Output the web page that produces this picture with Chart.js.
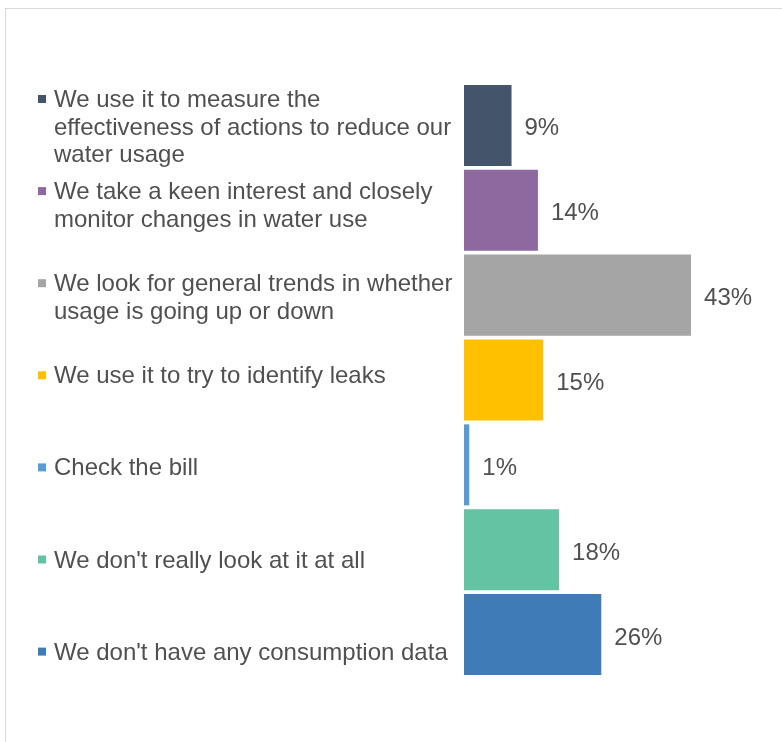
<!DOCTYPE html>
<html>
<head>
<meta charset="utf-8">
<script src="https://cdn.jsdelivr.net/npm/chart.js@4"></script>
<style>
  html, body { margin: 0; padding: 0; background: #fff; overflow: hidden; }
  #frame { position: absolute; left: 5px; top: 8px; width: 900px; height: 900px; border: 1px solid #d9d9d9; }
  #chart { position: absolute; left: 0; top: 0; }
</style>
</head>
<body>
<div id="frame"></div>
<canvas id="chart" width="782" height="742"></canvas>
<script>
// How the water consumption data is used (share of respondents, %)
const categories = [
    ['We use it to measure the', 'effectiveness of actions to reduce our', 'water usage'],
    ['We take a keen interest and closely', 'monitor changes in water use'],
    ['We look for general trends in whether', 'usage is going up or down'],
    ['We use it to try to identify leaks'],
    ['Check the bill'],
    ["We don't really look at it at all"],
    ["We don't have any consumption data"]
];
const shares = [9, 14, 43, 15, 1, 18, 26];
const barColors = ['#44546a', '#8d69a0', '#a5a5a5', '#ffc000', '#5b9bd5', '#64c3a2', '#3f7bb7'];

const textColor = '#505050';
const fontFamily = '"Liberation Sans", Arial, sans-serif';

// left-hand key: coloured square + wrapped text for each answer
const sideKey = {
    id: 'sideKey',
    afterDraw(chart) {
        const ctx = chart.ctx;
        const top = 99, step = 92.1, lineH = 27.6;
        ctx.save();
        ctx.font = '24px ' + fontFamily;
        ctx.textAlign = 'left';
        ctx.textBaseline = 'alphabetic';
        categories.forEach(function (lines, i) {
            const cy = top + i * step;
            ctx.fillStyle = barColors[i];
            ctx.fillRect(38, cy - 4, 8, 8);
            ctx.fillStyle = textColor;
            lines.forEach(function (line, j) {
                ctx.fillText(line, 54, cy + 8 + j * lineH);
            });
        });
        ctx.restore();
    }
};

// percentage printed just past the end of each bar
const valueLabels = {
    id: 'valueLabels',
    afterDatasetsDraw(chart) {
        const ctx = chart.ctx;
        const meta = chart.getDatasetMeta(0);
        ctx.save();
        ctx.font = '24px ' + fontFamily;
        ctx.fillStyle = textColor;
        ctx.textAlign = 'left';
        ctx.textBaseline = 'alphabetic';
        meta.data.forEach(function (bar, i) {
            ctx.fillText(shares[i] + '%', bar.x + 13, bar.y + 10);
        });
        ctx.restore();
    }
};

const ctx = document.getElementById('chart').getContext('2d');
const chart = new Chart(ctx, {
    type: 'bar',
    data: {
        labels: categories,
        datasets: [{
            data: shares,
            backgroundColor: barColors,
            borderWidth: 0,
            barPercentage: 0.955,
            categoryPercentage: 1
        }]
    },
    options: {
        indexAxis: 'y',
        responsive: false,
        animation: false,
        devicePixelRatio: 1,
        layout: {
            padding: { left: 464, right: 54, top: 83, bottom: 65 }
        },
        scales: {
            x: { display: false, min: 0, max: 50 },
            y: { display: false }
        },
        plugins: {
            legend: { display: false },
            tooltip: { enabled: false }
        }
    },
    plugins: [sideKey, valueLabels]
});
</script>
</body>
</html>
